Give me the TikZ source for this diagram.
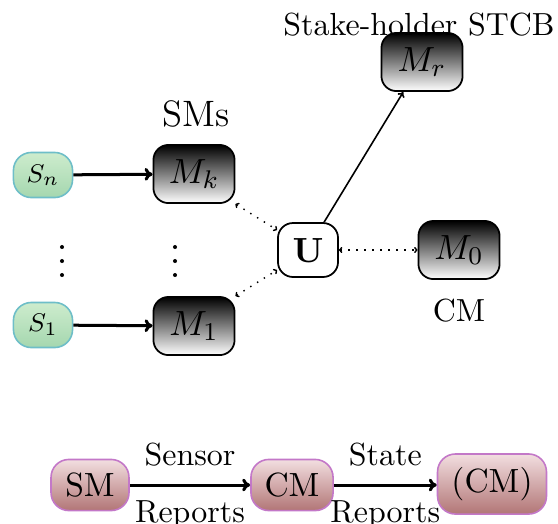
\documentclass[tikz,border=0pt]{standalone}
\usetikzlibrary{arrows.meta}
\definecolor{gtop}{RGB}{205,236,205}
\definecolor{gbot}{RGB}{165,215,175}
\definecolor{gdraw}{RGB}{110,190,200}
\definecolor{ptop}{RGB}{242,222,224}
\definecolor{pbot}{RGB}{178,118,118}
\definecolor{pdraw}{RGB}{195,120,200}
\begin{document}
\begin{tikzpicture}[x=0.313pt,y=-0.313pt,
  mnode/.style={draw=black, line width=0.55pt, rounded corners=4.7pt, top color=black, bottom color=white, minimum width=25.4pt, minimum height=18.2pt, inner sep=0pt, font=\fontsize{11}{13}\selectfont},
  snode/.style={draw=gdraw, line width=0.5pt, rounded corners=5.6pt, top color=gtop, bottom color=gbot, minimum width=18.5pt, minimum height=14.1pt, inner sep=0pt, font=\footnotesize},
  unode/.style={draw=black, fill=white, line width=0.55pt, rounded corners=4.7pt, minimum width=18.8pt, minimum height=16.9pt, inner sep=0pt, font=\fontsize{11}{13}\selectfont},
  pnode/.style={draw=pdraw, line width=0.5pt, rounded corners=5.6pt, top color=ptop, bottom color=pbot, minimum height=16pt, inner sep=0pt, font=\fontsize{10.5}{12}\selectfont},
  lbl/.style={font=\normalsize, inner sep=0pt, anchor=base},
  elbl/.style={font=\normalsize, inner sep=0pt},
  thickarrow/.style={-{To[length=2.5pt,width=4pt]}, line width=0.94pt},
  dotarrow/.style={{To[length=1.1pt,width=1.9pt]}-{To[length=1.1pt,width=1.9pt]}, dash pattern=on 0.45pt off 2.05pt, line width=0.45pt},
  thinarrow/.style={-{To[length=1.6pt,width=2.5pt]}, line width=0.5pt}
]
\useasboundingbox (0,0) rectangle (558,523);

% sensor nodes
\node[snode] (Sn) at (43,175) {$S_n$};
\node[snode] (S1) at (43,325) {$S_1$};
% SMs
\node[mnode] (Mk) at (194,174) {$M_k$};
\node[mnode] (M1) at (194,326) {$M_1$};
\node[lbl, font=\fontsize{11.5}{13}\selectfont] (smslbl) at (196,126) {SMs};
% U, CM, stakeholder
\node[unode] (U) at (308,250) {$\mathbf{U}$};
\node[mnode] (M0) at (459,250) {$M_0$};
\node[lbl] (cmlbl) at (459,321) {CM};
\node[mnode] (Mr) at (422,62) {$M_r$};
\node[lbl] (stlbl) at (419,35) {Stake-holder STCB};

% vertical dots
\foreach \yy in {247,261,275}{
  \fill (62,\yy) circle (0.63pt);
  \fill (175,\yy) circle (0.63pt);
}

% connectors
\draw[thickarrow] (Sn) -- (Mk);
\draw[thickarrow] (S1) -- (M1);
\draw[dotarrow] (Mk.south east) -- (U.147);
\draw[dotarrow] (M1.north east) -- (U.213);
\draw[dotarrow] (U) -- (M0);
\draw[thinarrow] (U.60) -- (Mr.238);

% bottom chain
\node[pnode, minimum width=24.4pt] (SM) at (90,485) {SM};
\node[pnode, minimum width=25.7pt] (CMb) at (292,485) {CM};
\node[pnode, minimum width=34.1pt, minimum height=18.8pt] (CMp) at (492,484) {(CM)};
\draw[thickarrow] (SM) -- node[elbl, midway, above=5.3pt] {Sensor} node[elbl, midway, below=4.3pt] {Reports} (CMb);
\draw[thickarrow] (CMb) -- node[elbl, midway, above=5.3pt] {State} node[elbl, midway, below=4.3pt] {Reports} (CMp.west |- CMb);
\end{tikzpicture}
\end{document}
